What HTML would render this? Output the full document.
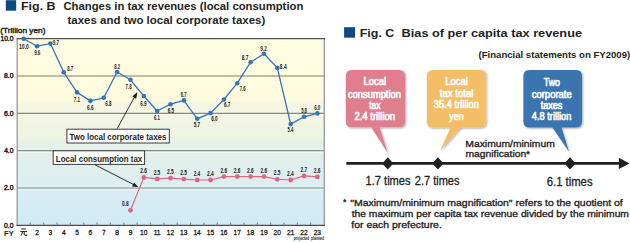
<!DOCTYPE html><html><head><meta charset="utf-8"><style>html,body{margin:0;padding:0;background:#fff;}svg{display:block;}</style></head><body><svg width="630" height="243" viewBox="0 0 630 243" font-family="Liberation Sans, sans-serif">
<defs>
<linearGradient id="bg" x1="0" y1="38.5" x2="0" y2="225" gradientUnits="userSpaceOnUse">
<stop offset="0.0000" stop-color="#fffce1"/>
<stop offset="0.3244" stop-color="#fefbdf"/>
<stop offset="0.3512" stop-color="#f5f7e2"/>
<stop offset="0.5282" stop-color="#eef4e3"/>
<stop offset="0.5496" stop-color="#e6f1e7"/>
<stop offset="0.6515" stop-color="#e2f0ec"/>
<stop offset="0.7909" stop-color="#dbeef1"/>
<stop offset="1.0000" stop-color="#cfeaf8"/>
</linearGradient>
<filter id="sh" x="-10%" y="-10%" width="130%" height="130%"><feGaussianBlur in="SourceAlpha" stdDeviation="0.8"/><feOffset dx="1" dy="1"/><feComponentTransfer><feFuncA type="linear" slope="0.35"/></feComponentTransfer><feMerge><feMergeNode/><feMergeNode in="SourceGraphic"/></feMerge></filter>
</defs>
<rect width="630" height="243" fill="#ffffff"/>
<rect x="17.0" y="38.5" width="307.3" height="186.5" fill="url(#bg)"/>
<line x1="17.0" y1="76.02" x2="324.3" y2="76.02" stroke="#aba691" stroke-width="1.5"/>
<line x1="17.0" y1="114.74" x2="324.3" y2="114.74" stroke="#ffffff" stroke-opacity="0.6" stroke-width="1"/>
<line x1="17.0" y1="111.94" x2="324.3" y2="111.94" stroke="#ffffff" stroke-opacity="0.36" stroke-width="1"/>
<line x1="17.0" y1="113.34" x2="324.3" y2="113.34" stroke="#85857a" stroke-width="1.2"/>
<line x1="17.0" y1="152.06" x2="324.3" y2="152.06" stroke="#ffffff" stroke-opacity="0.6" stroke-width="1"/>
<line x1="17.0" y1="149.26" x2="324.3" y2="149.26" stroke="#ffffff" stroke-opacity="0.36" stroke-width="1"/>
<line x1="17.0" y1="150.66" x2="324.3" y2="150.66" stroke="#878b87" stroke-width="1.2"/>
<line x1="17.0" y1="189.38" x2="324.3" y2="189.38" stroke="#ffffff" stroke-opacity="0.6" stroke-width="1"/>
<line x1="17.0" y1="186.58" x2="324.3" y2="186.58" stroke="#ffffff" stroke-opacity="0.36" stroke-width="1"/>
<line x1="17.0" y1="187.98" x2="324.3" y2="187.98" stroke="#98afb1" stroke-width="1.4"/>
<path d="M17.2 225.4 V38.6 M324.3 38.6 V225.4" fill="none" stroke="#98999c" stroke-width="1.3"/>
<line x1="16.6" y1="38.6" x2="325.0" y2="38.6" stroke="#505052" stroke-width="1.1"/>
<line x1="16.3" y1="225.4" x2="325.0" y2="225.4" stroke="#4a4b4f" stroke-width="1.1"/>
<line x1="30.35" y1="222.4" x2="30.35" y2="225" stroke="#8a8c90" stroke-width="1.2"/>
<line x1="43.70" y1="222.4" x2="43.70" y2="225" stroke="#8a8c90" stroke-width="1.2"/>
<line x1="57.05" y1="222.4" x2="57.05" y2="225" stroke="#8a8c90" stroke-width="1.2"/>
<line x1="70.40" y1="222.4" x2="70.40" y2="225" stroke="#8a8c90" stroke-width="1.2"/>
<line x1="83.75" y1="222.4" x2="83.75" y2="225" stroke="#8a8c90" stroke-width="1.2"/>
<line x1="97.10" y1="222.4" x2="97.10" y2="225" stroke="#8a8c90" stroke-width="1.2"/>
<line x1="110.45" y1="222.4" x2="110.45" y2="225" stroke="#8a8c90" stroke-width="1.2"/>
<line x1="123.80" y1="222.4" x2="123.80" y2="225" stroke="#8a8c90" stroke-width="1.2"/>
<line x1="137.15" y1="222.4" x2="137.15" y2="225" stroke="#8a8c90" stroke-width="1.2"/>
<line x1="150.50" y1="222.4" x2="150.50" y2="225" stroke="#8a8c90" stroke-width="1.2"/>
<line x1="163.85" y1="222.4" x2="163.85" y2="225" stroke="#8a8c90" stroke-width="1.2"/>
<line x1="177.20" y1="222.4" x2="177.20" y2="225" stroke="#8a8c90" stroke-width="1.2"/>
<line x1="190.55" y1="222.4" x2="190.55" y2="225" stroke="#8a8c90" stroke-width="1.2"/>
<line x1="203.90" y1="222.4" x2="203.90" y2="225" stroke="#8a8c90" stroke-width="1.2"/>
<line x1="217.25" y1="222.4" x2="217.25" y2="225" stroke="#8a8c90" stroke-width="1.2"/>
<line x1="230.60" y1="222.4" x2="230.60" y2="225" stroke="#8a8c90" stroke-width="1.2"/>
<line x1="243.95" y1="222.4" x2="243.95" y2="225" stroke="#8a8c90" stroke-width="1.2"/>
<line x1="257.30" y1="222.4" x2="257.30" y2="225" stroke="#8a8c90" stroke-width="1.2"/>
<line x1="270.65" y1="222.4" x2="270.65" y2="225" stroke="#8a8c90" stroke-width="1.2"/>
<line x1="284.00" y1="222.4" x2="284.00" y2="225" stroke="#8a8c90" stroke-width="1.2"/>
<line x1="297.35" y1="222.4" x2="297.35" y2="225" stroke="#8a8c90" stroke-width="1.2"/>
<line x1="310.70" y1="222.4" x2="310.70" y2="225" stroke="#8a8c90" stroke-width="1.2"/>
<rect x="5.8" y="0.2" width="10.4" height="10.5" fill="#0d4a80"/>
<text transform="translate(20.99 10.00) scale(1.0928 1)" font-size="11.4" font-weight="bold" fill="#231f20" >Fig. B</text>
<text transform="translate(63.45 10.00) scale(0.9924 1)" font-size="11.4" font-weight="bold" fill="#231f20" >Changes in tax revenues (local consumption</text>
<text transform="translate(67.49 23.60) scale(1.0075 1)" font-size="11.4" font-weight="bold" fill="#231f20" >taxes and two local corporate taxes)</text>
<text transform="translate(0.20 32.50) scale(1.0916 1)" font-size="7.6" font-weight="normal" fill="#231f20" stroke="#231f20" stroke-width="0.4">(Trillion yen)</text>
<text transform="translate(0.40 41.00) scale(0.9083 1)" font-size="7.4" font-weight="normal" fill="#1e1e1e" stroke="#1e1e1e" stroke-width="0.45">10.0</text>
<text transform="translate(3.99 78.32) scale(0.9216 1)" font-size="7.4" font-weight="normal" fill="#1e1e1e" stroke="#1e1e1e" stroke-width="0.45">8.0</text>
<text transform="translate(3.96 115.64) scale(0.9252 1)" font-size="7.4" font-weight="normal" fill="#1e1e1e" stroke="#1e1e1e" stroke-width="0.45">6.0</text>
<text transform="translate(4.13 152.96) scale(0.9077 1)" font-size="7.4" font-weight="normal" fill="#1e1e1e" stroke="#1e1e1e" stroke-width="0.45">4.0</text>
<text transform="translate(3.96 190.28) scale(0.9252 1)" font-size="7.4" font-weight="normal" fill="#1e1e1e" stroke="#1e1e1e" stroke-width="0.45">2.0</text>
<text transform="translate(4.03 227.60) scale(0.9181 1)" font-size="7.4" font-weight="normal" fill="#1e1e1e" stroke="#1e1e1e" stroke-width="0.45">0.0</text>
<text transform="translate(35.18 235.00) scale(0.8200 1)" font-size="8.1" font-weight="normal" fill="#1a1a1a" stroke="#1a1a1a" stroke-width="0.3">2</text>
<text transform="translate(48.55 235.00) scale(0.8200 1)" font-size="8.1" font-weight="normal" fill="#1a1a1a" stroke="#1a1a1a" stroke-width="0.3">3</text>
<text transform="translate(61.90 235.00) scale(0.8200 1)" font-size="8.1" font-weight="normal" fill="#1a1a1a" stroke="#1a1a1a" stroke-width="0.3">4</text>
<text transform="translate(75.23 235.00) scale(0.8200 1)" font-size="8.1" font-weight="normal" fill="#1a1a1a" stroke="#1a1a1a" stroke-width="0.3">5</text>
<text transform="translate(88.57 235.00) scale(0.8200 1)" font-size="8.1" font-weight="normal" fill="#1a1a1a" stroke="#1a1a1a" stroke-width="0.3">6</text>
<text transform="translate(101.93 235.00) scale(0.8200 1)" font-size="8.1" font-weight="normal" fill="#1a1a1a" stroke="#1a1a1a" stroke-width="0.3">7</text>
<text transform="translate(115.27 235.00) scale(0.8200 1)" font-size="8.1" font-weight="normal" fill="#1a1a1a" stroke="#1a1a1a" stroke-width="0.3">8</text>
<text transform="translate(128.63 235.00) scale(0.8200 1)" font-size="8.1" font-weight="normal" fill="#1a1a1a" stroke="#1a1a1a" stroke-width="0.3">9</text>
<text transform="translate(140.02 235.00) scale(0.8200 1)" font-size="8.1" font-weight="normal" fill="#1a1a1a" stroke="#1a1a1a" stroke-width="0.3">10</text>
<text transform="translate(153.65 235.00) scale(0.8200 1)" font-size="8.1" font-weight="normal" fill="#1a1a1a" stroke="#1a1a1a" stroke-width="0.3">11</text>
<text transform="translate(166.76 235.00) scale(0.8200 1)" font-size="8.1" font-weight="normal" fill="#1a1a1a" stroke="#1a1a1a" stroke-width="0.3">12</text>
<text transform="translate(180.09 235.00) scale(0.8200 1)" font-size="8.1" font-weight="normal" fill="#1a1a1a" stroke="#1a1a1a" stroke-width="0.3">13</text>
<text transform="translate(193.39 235.00) scale(0.8200 1)" font-size="8.1" font-weight="normal" fill="#1a1a1a" stroke="#1a1a1a" stroke-width="0.3">14</text>
<text transform="translate(206.77 235.00) scale(0.8200 1)" font-size="8.1" font-weight="normal" fill="#1a1a1a" stroke="#1a1a1a" stroke-width="0.3">15</text>
<text transform="translate(220.14 235.00) scale(0.8200 1)" font-size="8.1" font-weight="normal" fill="#1a1a1a" stroke="#1a1a1a" stroke-width="0.3">16</text>
<text transform="translate(233.51 235.00) scale(0.8200 1)" font-size="8.1" font-weight="normal" fill="#1a1a1a" stroke="#1a1a1a" stroke-width="0.3">17</text>
<text transform="translate(246.82 235.00) scale(0.8200 1)" font-size="8.1" font-weight="normal" fill="#1a1a1a" stroke="#1a1a1a" stroke-width="0.3">18</text>
<text transform="translate(260.19 235.00) scale(0.8200 1)" font-size="8.1" font-weight="normal" fill="#1a1a1a" stroke="#1a1a1a" stroke-width="0.3">19</text>
<text transform="translate(273.61 235.00) scale(0.8200 1)" font-size="8.1" font-weight="normal" fill="#1a1a1a" stroke="#1a1a1a" stroke-width="0.3">20</text>
<text transform="translate(286.99 235.00) scale(0.8200 1)" font-size="8.1" font-weight="normal" fill="#1a1a1a" stroke="#1a1a1a" stroke-width="0.3">21</text>
<text transform="translate(300.34 235.00) scale(0.8200 1)" font-size="8.1" font-weight="normal" fill="#1a1a1a" stroke="#1a1a1a" stroke-width="0.3">22</text>
<text transform="translate(313.67 235.00) scale(0.8200 1)" font-size="8.1" font-weight="normal" fill="#1a1a1a" stroke="#1a1a1a" stroke-width="0.3">23</text>
<g fill="none" stroke="#2a2a2a" stroke-width="1.1" stroke-linecap="butt"><path d="M21.4 228.9 H25.8"/><path d="M20.3 231.5 H26.9"/><path d="M22.5 231.3 Q22.5 234.4 20.7 235.6"/><path d="M24.2 231.3 V234.3 Q24.3 235.2 25.3 235.2 H26.9 V234.2"/></g>
<text transform="translate(4.11 235.60) scale(0.9414 1)" font-size="8.0" font-weight="bold" fill="#231f20" >FY</text>
<text transform="translate(293.68 240.10) scale(0.5536 1)" font-size="6.2" font-weight="bold" fill="#1e1e1e" >projected</text>
<text transform="translate(310.98 240.10) scale(0.5529 1)" font-size="6.2" font-weight="bold" fill="#1e1e1e" >planned</text>
<polyline points="23.68,38.70 37.02,46.20 50.38,43.60 63.73,72.30 77.07,92.40 90.42,100.90 103.77,97.80 117.12,72.00 130.47,79.80 143.82,96.00 157.17,111.00 170.53,104.20 183.88,100.40 197.22,118.80 210.57,113.10 223.92,99.50 237.28,83.20 250.62,62.20 263.98,53.80 277.32,67.90 290.68,124.10 304.02,116.80 317.38,113.40" fill="none" stroke="#3474bd" stroke-width="1.3" stroke-linejoin="round"/>
<circle cx="23.68" cy="38.70" r="2.3" fill="#3474bd"/>
<circle cx="37.02" cy="46.20" r="2.3" fill="#3474bd"/>
<circle cx="50.38" cy="43.60" r="2.3" fill="#3474bd"/>
<circle cx="63.73" cy="72.30" r="2.3" fill="#3474bd"/>
<circle cx="77.07" cy="92.40" r="2.3" fill="#3474bd"/>
<circle cx="90.42" cy="100.90" r="2.3" fill="#3474bd"/>
<circle cx="103.77" cy="97.80" r="2.3" fill="#3474bd"/>
<circle cx="117.12" cy="72.00" r="2.3" fill="#3474bd"/>
<circle cx="130.47" cy="79.80" r="2.3" fill="#3474bd"/>
<circle cx="143.82" cy="96.00" r="2.3" fill="#3474bd"/>
<circle cx="157.17" cy="111.00" r="2.3" fill="#3474bd"/>
<circle cx="170.53" cy="104.20" r="2.3" fill="#3474bd"/>
<circle cx="183.88" cy="100.40" r="2.3" fill="#3474bd"/>
<circle cx="197.22" cy="118.80" r="2.3" fill="#3474bd"/>
<circle cx="210.57" cy="113.10" r="2.3" fill="#3474bd"/>
<circle cx="223.92" cy="99.50" r="2.3" fill="#3474bd"/>
<circle cx="237.28" cy="83.20" r="2.3" fill="#3474bd"/>
<circle cx="250.62" cy="62.20" r="2.3" fill="#3474bd"/>
<circle cx="263.98" cy="53.80" r="2.3" fill="#3474bd"/>
<circle cx="277.32" cy="67.90" r="2.3" fill="#3474bd"/>
<circle cx="290.68" cy="124.10" r="2.3" fill="#3474bd"/>
<circle cx="304.02" cy="116.80" r="2.3" fill="#3474bd"/>
<circle cx="317.38" cy="113.40" r="2.3" fill="#3474bd"/>
<polyline points="130.47,210.30 143.82,177.40 157.17,178.90 170.53,178.10 183.88,179.10 197.22,180.00 210.57,180.00 223.92,176.60 237.28,176.60 250.62,176.60 263.98,176.60 277.32,179.30 290.68,180.00 304.02,175.90 317.38,176.90" fill="none" stroke="#dd6782" stroke-width="1.15" stroke-linejoin="round"/>
<circle cx="130.47" cy="210.30" r="2.4" fill="#dd6782"/>
<circle cx="143.82" cy="177.40" r="2.4" fill="#dd6782"/>
<circle cx="157.17" cy="178.90" r="2.4" fill="#dd6782"/>
<circle cx="170.53" cy="178.10" r="2.4" fill="#dd6782"/>
<circle cx="183.88" cy="179.10" r="2.4" fill="#dd6782"/>
<circle cx="197.22" cy="180.00" r="2.4" fill="#dd6782"/>
<circle cx="210.57" cy="180.00" r="2.4" fill="#dd6782"/>
<circle cx="223.92" cy="176.60" r="2.4" fill="#dd6782"/>
<circle cx="237.28" cy="176.60" r="2.4" fill="#dd6782"/>
<circle cx="250.62" cy="176.60" r="2.4" fill="#dd6782"/>
<circle cx="263.98" cy="176.60" r="2.4" fill="#dd6782"/>
<circle cx="277.32" cy="179.30" r="2.4" fill="#dd6782"/>
<circle cx="290.68" cy="180.00" r="2.4" fill="#dd6782"/>
<circle cx="304.02" cy="175.90" r="2.4" fill="#dd6782"/>
<circle cx="317.38" cy="176.90" r="2.4" fill="#dd6782"/>
<text transform="translate(19.07 48.70) scale(0.7658 1)" font-size="6.6" font-weight="bold" fill="#1a1a1a" >10.0</text>
<text transform="translate(34.14 54.60) scale(0.6772 1)" font-size="6.6" font-weight="bold" fill="#1a1a1a" >9.6</text>
<text transform="translate(52.74 45.40) scale(0.6940 1)" font-size="6.6" font-weight="bold" fill="#1a1a1a" >9.7</text>
<text transform="translate(67.17 70.60) scale(0.6337 1)" font-size="6.6" font-weight="bold" fill="#1a1a1a" >8.7</text>
<text transform="translate(73.70 101.70) scale(0.6887 1)" font-size="6.6" font-weight="bold" fill="#1a1a1a" >7.1</text>
<text transform="translate(87.03 109.60) scale(0.7231 1)" font-size="6.6" font-weight="bold" fill="#1a1a1a" >6.6</text>
<text transform="translate(105.14 106.10) scale(0.6861 1)" font-size="6.6" font-weight="bold" fill="#1a1a1a" >6.8</text>
<text transform="translate(114.27 68.80) scale(0.6313 1)" font-size="6.6" font-weight="bold" fill="#1a1a1a" >8.2</text>
<text transform="translate(125.60 88.60) scale(0.6568 1)" font-size="6.6" font-weight="bold" fill="#1a1a1a" >7.8</text>
<text transform="translate(140.14 106.10) scale(0.7002 1)" font-size="6.6" font-weight="bold" fill="#1a1a1a" >6.9</text>
<text transform="translate(154.06 119.60) scale(0.6266 1)" font-size="6.6" font-weight="bold" fill="#1a1a1a" >6.1</text>
<text transform="translate(167.74 113.00) scale(0.6835 1)" font-size="6.6" font-weight="bold" fill="#1a1a1a" >6.5</text>
<text transform="translate(180.75 97.10) scale(0.6361 1)" font-size="6.6" font-weight="bold" fill="#1a1a1a" >6.7</text>
<text transform="translate(193.76 127.30) scale(0.6913 1)" font-size="6.6" font-weight="bold" fill="#1a1a1a" >5.7</text>
<text transform="translate(211.24 121.20) scale(0.6913 1)" font-size="6.6" font-weight="bold" fill="#1a1a1a" >6.0</text>
<text transform="translate(223.94 107.20) scale(0.6940 1)" font-size="6.6" font-weight="bold" fill="#1a1a1a" >6.7</text>
<text transform="translate(239.71 91.20) scale(0.6361 1)" font-size="6.6" font-weight="bold" fill="#1a1a1a" >7.6</text>
<text transform="translate(241.76 60.20) scale(0.7144 1)" font-size="6.6" font-weight="bold" fill="#1a1a1a" >8.7</text>
<text transform="translate(260.23 50.50) scale(0.7144 1)" font-size="6.6" font-weight="bold" fill="#1a1a1a" >9.2</text>
<text transform="translate(279.85 69.00) scale(0.7380 1)" font-size="6.6" font-weight="bold" fill="#1a1a1a" >8.4</text>
<text transform="translate(287.47 132.30) scale(0.6374 1)" font-size="6.6" font-weight="bold" fill="#1a1a1a" >5.4</text>
<text transform="translate(301.18 112.80) scale(0.6266 1)" font-size="6.6" font-weight="bold" fill="#1a1a1a" >5.8</text>
<text transform="translate(314.15 109.70) scale(0.6568 1)" font-size="6.6" font-weight="bold" fill="#1a1a1a" >6.0</text>
<text transform="translate(121.91 206.20) scale(0.7231 1)" font-size="6.6" font-weight="bold" fill="#1a1a1a" >0.8</text>
<text transform="translate(140.32 173.30) scale(0.7200 1)" font-size="6.6" font-weight="bold" fill="#1a1a1a" >2.6</text>
<text transform="translate(153.65 174.80) scale(0.7200 1)" font-size="6.6" font-weight="bold" fill="#1a1a1a" >2.5</text>
<text transform="translate(167.00 174.00) scale(0.7200 1)" font-size="6.6" font-weight="bold" fill="#1a1a1a" >2.5</text>
<text transform="translate(180.35 175.00) scale(0.7200 1)" font-size="6.6" font-weight="bold" fill="#1a1a1a" >2.5</text>
<text transform="translate(193.65 175.90) scale(0.7200 1)" font-size="6.6" font-weight="bold" fill="#1a1a1a" >2.4</text>
<text transform="translate(207.00 175.90) scale(0.7200 1)" font-size="6.6" font-weight="bold" fill="#1a1a1a" >2.4</text>
<text transform="translate(220.42 172.50) scale(0.7200 1)" font-size="6.6" font-weight="bold" fill="#1a1a1a" >2.6</text>
<text transform="translate(233.77 172.50) scale(0.7200 1)" font-size="6.6" font-weight="bold" fill="#1a1a1a" >2.6</text>
<text transform="translate(247.12 172.50) scale(0.7200 1)" font-size="6.6" font-weight="bold" fill="#1a1a1a" >2.6</text>
<text transform="translate(260.47 172.50) scale(0.7200 1)" font-size="6.6" font-weight="bold" fill="#1a1a1a" >2.6</text>
<text transform="translate(273.80 175.20) scale(0.7200 1)" font-size="6.6" font-weight="bold" fill="#1a1a1a" >2.5</text>
<text transform="translate(287.10 175.90) scale(0.7200 1)" font-size="6.6" font-weight="bold" fill="#1a1a1a" >2.4</text>
<text transform="translate(300.55 171.80) scale(0.7200 1)" font-size="6.6" font-weight="bold" fill="#1a1a1a" >2.7</text>
<text transform="translate(313.87 172.80) scale(0.7200 1)" font-size="6.6" font-weight="bold" fill="#1a1a1a" >2.6</text>
<rect x="66.9" y="129.2" width="102.4" height="13.8" fill="#ffffff" stroke="#3a3a3a" stroke-width="1"/>
<text transform="translate(69.52 139.80) scale(0.8028 1)" font-size="9.9" font-weight="bold" fill="#231f20" >Two local corporate taxes</text>
<rect x="53.2" y="150.8" width="91.4" height="13.6" fill="#ffffff" stroke="#3a3a3a" stroke-width="1"/>
<text transform="translate(55.78 161.60) scale(0.8023 1)" font-size="9.9" font-weight="bold" fill="#231f20" >Local consumption tax</text>
<line x1="117.1" y1="128.7" x2="134.6" y2="96.8" stroke="#1a1a1a" stroke-width="0.9"/>
<path d="M137.4 92.0 L132.3 96.6 L136.2 98.8 Z" fill="#1a1a1a"/>
<line x1="95.2" y1="164.9" x2="133.3" y2="184.4" stroke="#1a1a1a" stroke-width="0.9"/>
<path d="M138.2 186.9 L132.0 186.5 L134.1 182.5 Z" fill="#1a1a1a"/>
<rect x="344.1" y="27.2" width="10.9" height="10.5" fill="#0d4a80"/>
<text transform="translate(359.69 37.00) scale(1.0944 1)" font-size="11.4" font-weight="bold" fill="#231f20" >Fig. C</text>
<text transform="translate(401.57 37.00) scale(1.1178 1)" font-size="11.4" font-weight="bold" fill="#231f20" >Bias of per capita tax revenue</text>
<text transform="translate(478.52 58.10) scale(1.0192 1)" font-size="9.4" font-weight="bold" fill="#231f20" >(Financial statements on FY2009)</text>
<path d="M351.8 69.9 H399.0 Q405.0 69.9 405.0 75.9 V121.2 Q405.0 127.2 399.0 127.2 H379.5 L387.8 153.0 L371.3 127.2 H351.8 Q345.8 127.2 345.8 121.2 V75.9 Q345.8 69.9 351.8 69.9 Z" fill="#df7f8e" filter="url(#sh)"/>
<path d="M432.9 69.9 H480.1 Q486.1 69.9 486.1 75.9 V121.5 Q486.1 127.5 480.1 127.5 H460.9 L440.3 150.5 L450.6 127.5 H432.9 Q426.9 127.5 426.9 121.5 V75.9 Q426.9 69.9 432.9 69.9 Z" fill="#f4be66" filter="url(#sh)"/>
<path d="M529.4 69.9 H576.0 Q582.0 69.9 582.0 75.9 V121.5 Q582.0 127.5 576.0 127.5 H561.5 L569.0 151.7 L552.5 127.5 H529.4 Q523.4 127.5 523.4 121.5 V75.9 Q523.4 69.9 529.4 69.9 Z" fill="#3a74b0" filter="url(#sh)"/>
<text transform="translate(363.44 85.40) scale(0.8511 1)" font-size="11.2" font-weight="normal" fill="#ffffff" stroke="#fff" stroke-width="0.65">Local</text>
<text transform="translate(347.98 97.60) scale(0.8350 1)" font-size="11.2" font-weight="normal" fill="#ffffff" stroke="#fff" stroke-width="0.65">consumption</text>
<text transform="translate(369.28 108.80) scale(0.7429 1)" font-size="11.2" font-weight="normal" fill="#ffffff" stroke="#fff" stroke-width="0.65">tax</text>
<text transform="translate(354.42 120.00) scale(0.8489 1)" font-size="11.2" font-weight="normal" fill="#ffffff" stroke="#fff" stroke-width="0.65">2.4 trillion</text>
<text transform="translate(445.24 85.40) scale(0.8511 1)" font-size="11.2" font-weight="normal" fill="#ffffff" stroke="#fff" stroke-width="0.65">Local</text>
<text transform="translate(439.76 97.40) scale(0.8615 1)" font-size="11.2" font-weight="normal" fill="#ffffff" stroke="#fff" stroke-width="0.65">tax total</text>
<text transform="translate(433.73 108.40) scale(0.8362 1)" font-size="11.2" font-weight="normal" fill="#ffffff" stroke="#fff" stroke-width="0.65">35.4 trillion</text>
<text transform="translate(449.26 119.80) scale(0.7943 1)" font-size="11.2" font-weight="normal" fill="#ffffff" stroke="#fff" stroke-width="0.65">yen</text>
<text transform="translate(543.72 86.30) scale(0.7897 1)" font-size="11.2" font-weight="normal" fill="#ffffff" stroke="#fff" stroke-width="0.65">Two</text>
<text transform="translate(531.67 97.60) scale(0.8486 1)" font-size="11.2" font-weight="normal" fill="#ffffff" stroke="#fff" stroke-width="0.65">corporate</text>
<text transform="translate(540.66 108.70) scale(0.8127 1)" font-size="11.2" font-weight="normal" fill="#ffffff" stroke="#fff" stroke-width="0.65">taxes</text>
<text transform="translate(531.87 119.80) scale(0.8247 1)" font-size="11.2" font-weight="normal" fill="#ffffff" stroke="#fff" stroke-width="0.65">4.8 trillion</text>
<line x1="346.3" y1="163.4" x2="621" y2="163.4" stroke="#231f20" stroke-width="2.6"/>
<path d="M618.9 157.8 L629.5 163.4 L618.9 169.1 Z" fill="#231f20"/>
<path d="M387.8 157.3 L393.40000000000003 163.4 L387.8 169.5 L382.2 163.4 Z" fill="#231f20"/>
<path d="M437.9 157.3 L443.5 163.4 L437.9 169.5 L432.29999999999995 163.4 Z" fill="#231f20"/>
<path d="M570.0 157.3 L575.6 163.4 L570.0 169.5 L564.4 163.4 Z" fill="#231f20"/>
<text transform="translate(365.57 185.40) scale(0.9101 1)" font-size="12.2" font-weight="normal" fill="#231f20" stroke="#231f20" stroke-width="0.3">1.7 times</text>
<text transform="translate(414.75 185.40) scale(0.9043 1)" font-size="12.2" font-weight="normal" fill="#231f20" stroke="#231f20" stroke-width="0.3">2.7 times</text>
<text transform="translate(546.74 185.50) scale(0.9250 1)" font-size="12.2" font-weight="normal" fill="#231f20" stroke="#231f20" stroke-width="0.3">6.1 times</text>
<text transform="translate(465.37 146.60) scale(1.0872 1)" font-size="9.5" font-weight="normal" fill="#222" stroke="#222" stroke-width="0.32">Maximum/minimum</text>
<text transform="translate(465.53 157.10) scale(1.0841 1)" font-size="9.5" font-weight="normal" fill="#222" stroke="#222" stroke-width="0.32">magnification*</text>
<text transform="translate(343.03 204.50) scale(0.9524 1)" font-size="9.0" font-weight="normal" fill="#222" stroke="#222" stroke-width="0.32">*</text>
<text transform="translate(350.33 205.70) scale(1.1364 1)" font-size="9.2" font-weight="normal" fill="#222" stroke="#222" stroke-width="0.32">&quot;Maximum/minimum magnification&quot; refers to the quotient of</text>
<text transform="translate(351.65 216.80) scale(1.1203 1)" font-size="9.2" font-weight="normal" fill="#222" stroke="#222" stroke-width="0.32">the maximum per capita tax revenue divided by the minimum</text>
<text transform="translate(351.34 227.60) scale(1.1358 1)" font-size="9.2" font-weight="normal" fill="#222" stroke="#222" stroke-width="0.32">for each prefecture.</text>
</svg></body></html>
